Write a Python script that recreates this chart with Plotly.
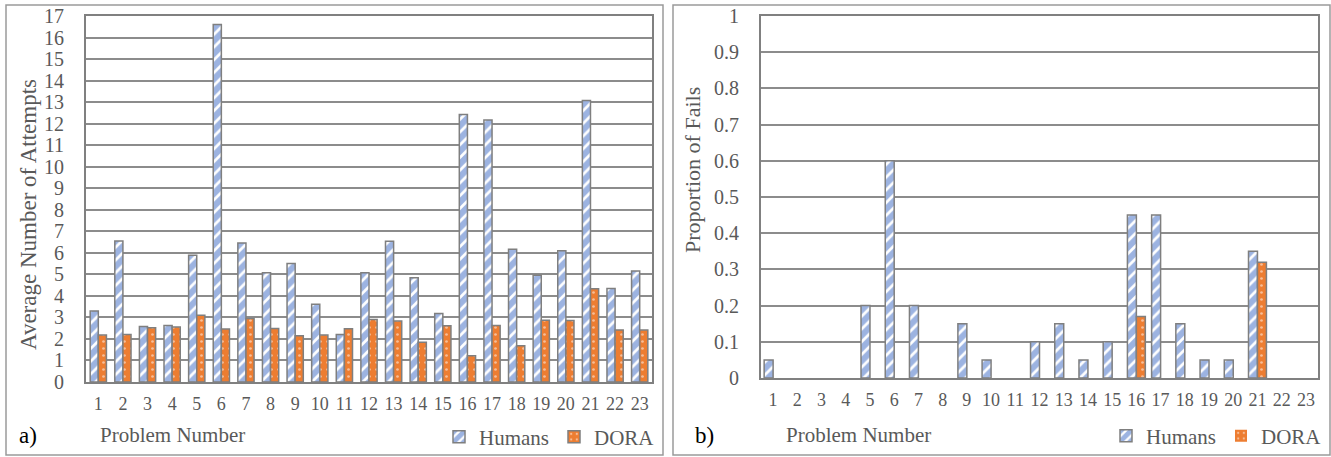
import plotly.graph_objects as go

problems = [str(i) for i in range(1, 24)]

attempts_humans = [3.3, 6.55, 2.58, 2.63, 5.89, 16.6, 6.46, 5.07, 5.5, 3.61, 2.21, 5.07,
                   6.54, 4.84, 3.18, 12.43, 12.17, 6.17, 4.96, 6.1, 13.07, 4.34, 5.16]
attempts_dora = [2.18, 2.21, 2.52, 2.55, 3.1, 2.46, 2.95, 2.49, 2.15, 2.18, 2.47, 2.9,
                 2.83, 1.85, 2.61, 1.22, 2.63, 1.68, 2.87, 2.86, 4.33, 2.42, 2.41]

fails_humans = [0.05, 0, 0, 0, 0.2, 0.6, 0.2, 0, 0.15, 0.05, 0, 0.1,
                0.15, 0.05, 0.1, 0.45, 0.45, 0.15, 0.05, 0.05, 0.35, 0, 0]
fails_dora = [0, 0, 0, 0, 0, 0, 0, 0, 0, 0, 0, 0,
              0, 0, 0, 0.17, 0, 0, 0, 0, 0.32, 0, 0]

left_yticks = list(range(0, 18))
right_yticks = [round(i * 0.1, 1) for i in range(0, 11)]

W, H = 1331, 457
FONT = "Liberation Serif, Times New Roman, DejaVu Serif, serif"
GRAY_TXT = "#595959"
BLUE = "#3a68c4"
ORANGE = "#ED7D31"
OUTLINE = "#7f7f7f"


def px(x):
    return x / W


def py(y):
    return 1 - y / H


def humans_marker(values):
    return dict(color="white",
                pattern=dict(shape="/", fgcolor=BLUE, bgcolor="white", size=9, solidity=0.7),
                line=dict(color=OUTLINE, width=[1.5 if v else 0 for v in values]))


def dora_marker(values):
    return dict(color=ORANGE,
                pattern=dict(shape=".", fgcolor="white", bgcolor=ORANGE, size=7, solidity=0.12),
                line=dict(color=OUTLINE, width=[1.5 if v else 0 for v in values]))


fig = go.Figure()
wl = 0.33
wr = 0.37
fig.add_trace(go.Bar(x=problems, y=attempts_humans, name="Humans", marker=humans_marker(attempts_humans),
                     width=wl, offset=-wl, xaxis="x", yaxis="y", legend="legend"))
fig.add_trace(go.Bar(x=problems, y=attempts_dora, name="DORA", marker=dora_marker(attempts_dora),
                     width=wl, offset=0, xaxis="x", yaxis="y", legend="legend"))
fig.add_trace(go.Bar(x=problems, y=fails_humans, name="Humans", marker=humans_marker(fails_humans),
                     width=wr, offset=-wr, xaxis="x2", yaxis="y2", legend="legend2"))
fig.add_trace(go.Bar(x=problems, y=fails_dora, name="DORA", marker=dora_marker(fails_dora),
                     width=wr, offset=0, xaxis="x2", yaxis="y2", legend="legend2"))

tickfont = dict(family=FONT, size=20, color=GRAY_TXT)
xcommon = dict(type="category", range=[-0.5, 22.5], showgrid=False, showline=True,
               linecolor="#808080", linewidth=2, mirror=True, ticks="",
               tickfont=dict(family=FONT, size=18, color=GRAY_TXT), ticklabelstandoff=4,
               fixedrange=True)
ycommon = dict(showgrid=True, gridcolor="#8c8c8c", gridwidth=1.5, showline=True,
               linecolor="#808080", linewidth=2, mirror=True, ticks="", zeroline=False,
               tickfont=tickfont, ticklabelstandoff=16, fixedrange=True)

legend_common = dict(orientation="h", xanchor="right", yanchor="middle",
                     font=dict(family=FONT, size=21, color=GRAY_TXT),
                     bgcolor="rgba(0,0,0,0)", itemwidth=30, traceorder="normal")


def ann(text, x, y, size, color=GRAY_TXT, angle=0):
    return dict(text=text, xref="paper", yref="paper", x=px(x), y=py(y), xanchor="center",
                yanchor="middle", textangle=angle, showarrow=False,
                font=dict(family=FONT, size=size, color=color))


fig.update_layout(
    width=W, height=H, margin=dict(l=0, r=0, t=0, b=0, autoexpand=False),
    paper_bgcolor="white", plot_bgcolor="white",
    barmode="overlay",
    xaxis=dict(domain=[px(86), px(652)], anchor="y", **xcommon),
    yaxis=dict(domain=[py(382), py(16)], anchor="x", range=[0, 17], tickvals=left_yticks, **ycommon),
    xaxis2=dict(domain=[px(761), px(1318)], anchor="y2", **xcommon),
    yaxis2=dict(domain=[py(378), py(16)], anchor="x2", range=[0, 1], tickvals=right_yticks,
                **ycommon),
    legend=dict(x=px(660), y=py(437), **legend_common),
    legend2=dict(x=px(1327), y=py(436), **legend_common),
    shapes=[
        dict(type="rect", xref="paper", yref="paper", x0=px(6), x1=px(663), y0=py(455), y1=py(5),
             line=dict(color="#9a9a9a", width=1.5), layer="below"),
        dict(type="rect", xref="paper", yref="paper", x0=px(673), x1=px(1330), y0=py(455), y1=py(5),
             line=dict(color="#9a9a9a", width=1.5), layer="below"),
    ],
    annotations=[
        ann("Average Number of Attempts", 28, 215, 23, angle=-90),
        ann("Proportion of Fails", 693, 170, 22, angle=-90),
        ann("Problem Number", 172, 435, 21),
        ann("Problem Number", 858, 435, 21),
        ann("a)", 28, 435, 23, color="black"),
        ann("b)", 705, 435, 23, color="black"),
    ],
)

post = ("document.body.style.margin='0';document.body.style.padding='0';"
        "var gd=document.getElementById('{plot_id}');gd.style.position='absolute';"
        "gd.style.left='0px';gd.style.top='0px';")
fig.write_html("out.html", post_script=post, config={"displayModeBar": False})
